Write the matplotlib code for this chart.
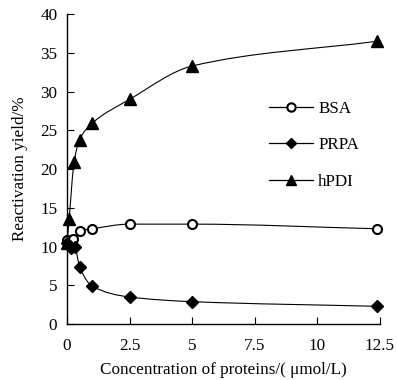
import numpy as np
import matplotlib.pyplot as plt
from matplotlib.path import Path
from matplotlib.patches import PathPatch
from matplotlib.lines import Line2D

plt.rcParams['font.family'] = ['Liberation Serif', 'DejaVu Serif']
plt.rcParams['font.size'] = 12.3

bsa_x = [0, 0.25, 0.5, 1.0, 2.5, 5.0, 12.4]
bsa_y = [10.8, 11.0, 12.0, 12.3, 12.9, 12.9, 12.3]
prpa_x = [0, 0.15, 0.3, 0.5, 1.0, 2.5, 5.0, 12.4]
prpa_y = [10.5, 9.8, 10.0, 7.4, 4.9, 3.5, 2.9, 2.3]
hpdi_x = [0, 0.08, 0.28, 0.5, 1.0, 2.5, 5.0, 12.4]
hpdi_y = [10.5, 13.5, 20.9, 23.8, 25.9, 29.0, 33.3, 36.5]

xticks = [0, 2.5, 5, 7.5, 10, 12.5]
xticklabels = ['0', '2.5', '5', '7.5', '10', '12.5']


def smooth_path(x, y):
	# pchip-like slopes, drawn as bezier segments
	x = np.asarray(x, float)
	y = np.asarray(y, float)
	h = np.diff(x)
	s = np.diff(y) / h
	d = np.zeros_like(x)
	d[0] = s[0]
	d[-1] = s[-1]
	for i in range(1, len(x) - 1):
		if s[i - 1] * s[i] > 0:
			w1 = 2 * h[i] + h[i - 1]
			w2 = h[i] + 2 * h[i - 1]
			d[i] = (w1 + w2) / (w1 / s[i - 1] + w2 / s[i])
	verts = [(x[0], y[0])]
	codes = [Path.MOVETO]
	for i in range(len(x) - 1):
		verts += [(x[i] + h[i] / 3, y[i] + d[i] * h[i] / 3),
				  (x[i + 1] - h[i] / 3, y[i + 1] - d[i + 1] * h[i] / 3),
				  (x[i + 1], y[i + 1])]
		codes += [Path.CURVE4] * 3
	return Path(verts, codes)


fig = plt.figure(figsize=(3.97, 3.80), dpi=100)
ax = fig.add_axes([0.169, 0.147, 0.788, 0.816])

series = [
	(bsa_x, bsa_y, 'o', 'white', 6.5, 'BSA'),
	(prpa_x, prpa_y, 'D', 'black', 6, 'PRPA'),
	(hpdi_x, hpdi_y, '^', 'black', 8, 'hPDI'),
]
handles = []
for x, y, m, fc, ms, lab in series:
	ax.add_patch(PathPatch(smooth_path(x, y), facecolor='none', edgecolor='black', lw=0.8, zorder=2))
	ax.plot(x, y, ls='none', marker=m, mfc=fc, mec='black', mew=1.5 if fc == 'white' else 1, ms=ms, zorder=3, clip_on=False)
	handles.append(Line2D([], [], color='black', lw=0.9, marker=m, mfc=fc, mec='black',
						  mew=1.5 if fc == 'white' else 1, ms=ms - 0.5, label=lab))

ax.set_xlim(0, 12.5)
ax.set_ylim(0, 40)
ax.set_xticks(xticks)
ax.set_xticklabels(xticklabels)
ax.set_yticks(range(0, 41, 5))
ax.tick_params(direction='in', length=5, width=0.8, pad=10)
ax.tick_params(axis='y', pad=7)
for s in ['top', 'right']:
	ax.spines[s].set_visible(False)
for s in ['left', 'bottom']:
	ax.spines[s].set_linewidth(1.0)

ax.set_xlabel('Concentration of proteins/( \u03bcmol/L)', labelpad=6)
ax.set_ylabel('Reactivation yield/%', labelpad=9)

ax.legend(handles=handles, loc='upper left', bbox_to_anchor=(0.595, 0.77), frameon=False,
		  labelspacing=1.2, handlelength=2.6, handletextpad=0.3)

fig.savefig('out.png', dpi=100)
